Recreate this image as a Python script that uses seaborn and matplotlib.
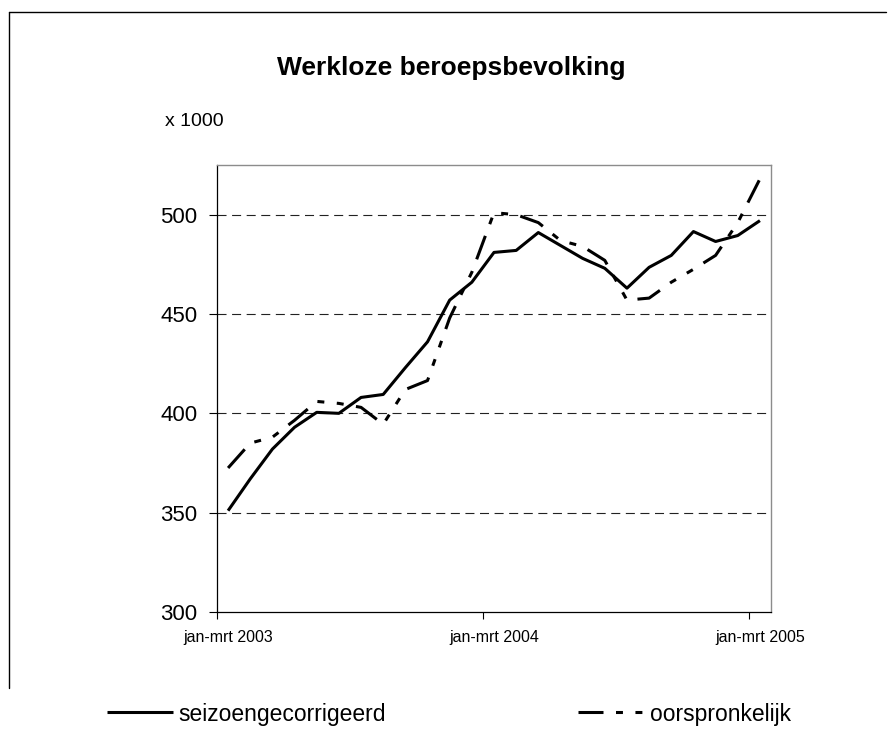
import numpy as np
import pandas as pd
import matplotlib
matplotlib.use('Agg')
import matplotlib.pyplot as plt
from matplotlib.lines import Line2D
import seaborn as sns

# Gegevens (x 1000), voortschrijdende kwartalen
periode = ['jan-mrt 2003', 'feb-apr 2003', 'mrt-mei 2003', 'apr-jun 2003', 'mei-jul 2003',
           'jun-aug 2003', 'jul-sep 2003', 'aug-okt 2003', 'sep-nov 2003', 'okt-dec 2003',
           'nov-jan 2004', 'dec-feb 2004', 'jan-mrt 2004', 'feb-apr 2004', 'mrt-mei 2004',
           'apr-jun 2004', 'mei-jul 2004', 'jun-aug 2004', 'jul-sep 2004', 'aug-okt 2004',
           'sep-nov 2004', 'okt-dec 2004', 'nov-jan 2005', 'dec-feb 2005', 'jan-mrt 2005']
seizoen = [351, 367, 382, 393, 400.5, 400, 408, 409.5, 423, 436, 457, 466, 481,
           482, 491, 484.5, 478, 473, 463, 473.5, 479.5, 491.5, 486.5, 489.5, 497]
oorspronkelijk = [372.5, 385, 388, 396.5, 406, 405, 403, 394.5, 412, 416.5, 448, 471, 501,
                  500, 496, 487, 484, 477, 457, 458, 466, 472.5, 479.5, 496, 518]
xlabels = ['jan-mrt 2003', 'jan-mrt 2004', 'jan-mrt 2005']
yticks = [300, 350, 400, 450, 500]

sns.set_style('ticks')
plt.rcParams['font.family'] = ['Liberation Sans', 'DejaVu Sans']
plt.rcParams['lines.scale_dashes'] = False
plt.rcParams['text.color'] = 'black'
plt.rcParams['xtick.color'] = 'black'
plt.rcParams['ytick.color'] = 'black'
plt.rcParams['axes.labelcolor'] = 'black'

df = pd.DataFrame({'pos': np.arange(len(periode)), 'periode': periode,
                   'seizoen': seizoen, 'oorspronkelijk': oorspronkelijk})

fig = plt.figure(figsize=(8.95, 7.43), dpi=100)
ax = fig.add_axes([217 / 895, 131 / 743, 554 / 895, 447 / 743])

# Rasterlijnen
for v in yticks[1:]:
    ax.axhline(v, color='#222222', lw=0.8, ls=(0, (6.5, 4)), zorder=0)

sns.lineplot(data=df, x='pos', y='seizoen', ax=ax, color='black', lw=2.2,
             label='seizoengecorrigeerd', sort=False)
sns.lineplot(data=df, x='pos', y='oorspronkelijk', ax=ax, color='black', lw=2.2,
             label='oorspronkelijk', sort=False)
ax.lines[-1].set_linestyle((0, (18, 9, 5, 9, 5, 9)))
ax.lines[-1].set_dash_capstyle('butt')
ax.lines[-2].set_solid_capstyle('butt')

ax.set_xlim(-0.5, len(periode) - 0.5)
ax.set_ylim(300, 525)
ax.set_yticks(yticks)
ax.tick_params(axis='y', labelsize=16, length=6, width=0.8, pad=8, direction='out',
               labelcolor='black')

# tickstreepjes tussen categorieen, labels op de categorie
ax.set_xticks([-0.5, 11.5, 23.5])
ax.set_xticklabels([])
ax.set_xticks([periode.index(l) for l in xlabels], minor=True)
ax.set_xticklabels(xlabels, minor=True)
ax.tick_params(axis='x', which='major', length=5, width=0.8, direction='out')
ax.tick_params(axis='x', which='minor', length=0, labelsize=11.5, pad=13, labelcolor='black')
ax.set_xlabel('')
ax.set_ylabel('')

for s in ['left', 'bottom']:
    ax.spines[s].set_color('black')
    ax.spines[s].set_linewidth(0.9)
for s in ['top', 'right']:
    ax.spines[s].set_visible(True)
    ax.spines[s].set_color('#8c8c8c')
    ax.spines[s].set_linewidth(1.0)

handles, labels = ax.get_legend_handles_labels()
ax.get_legend().remove()
fig.legend(handles, labels, loc='center left', bbox_to_anchor=(107 / 895, 1 - 714 / 743),
           ncol=2, frameon=False, borderpad=0, borderaxespad=0, fontsize=16.5,
           handlelength=2.9, handletextpad=0.22, columnspacing=8.4)

fig.text(451 / 895, 1 - 68 / 743, 'Werkloze beroepsbevolking', ha='center', va='center',
         fontsize=19, fontweight='bold')
fig.text(165 / 895, 1 - 121 / 743, 'x 1000', ha='left', va='center', fontsize=14)

# rand van de grafiek
fig.add_artist(Line2D([9 / 895, 9 / 895], [1 - 12 / 743, 1 - 688 / 743], color='black', lw=1))
fig.add_artist(Line2D([9 / 895, 886 / 895], [1 - 12 / 743, 1 - 12 / 743], color='black', lw=1))

fig.savefig('out.png', dpi=100)
